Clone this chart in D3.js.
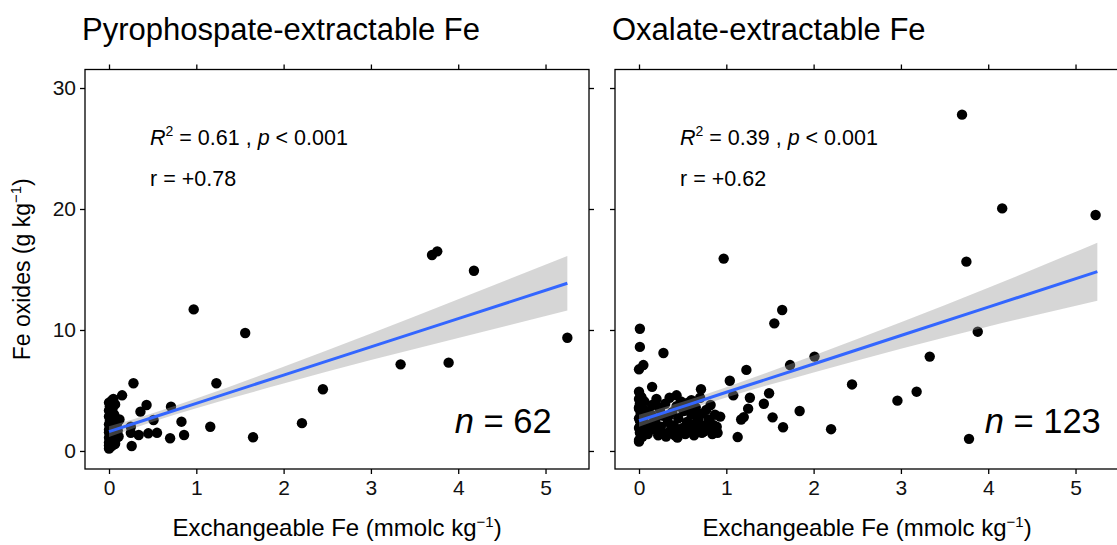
<!DOCTYPE html>
<html><head><meta charset="utf-8">
<script src="https://cdn.jsdelivr.net/npm/d3@7"></script>
<style>body{margin:0;background:#fff}svg{display:block;font-family:"Liberation Sans",Arial,sans-serif}</style>
</head><body><svg id="c" width="1117" height="545"></svg>
<script>
const xTicks = [0, 1, 2, 3, 4, 5];
const yTicks = [0, 10, 20, 30];
const panelTitles = ["Pyrophospate-extractable Fe", "Oxalate-extractable Fe"];
const r2Values = ["0.61", "0.39"];
const rValues = ["+0.78", "+0.62"];
const nValues = ["62", "123"];

// Pyrophosphate-extractable Fe (n = 62)
const pyroX = [3.70,3.76,4.18,5.25,3.34,3.89,0.97,1.56,2.21,2.45,1.65,1.16,1.23,
  0.28,0.15,0.43,0.36,0.71,0.51,0.83,0.25,0.25,0.34,0.45,0.55,0.70,0.86,0.26,0.11,0.07,
  0.00,0.02,0.05,0.00,0.03,0.00,0.06,0.01,0.04,0.00,0.08,0.02,0.00,0.05,0.01,0.03,
  0.00,0.06,0.02,0.00,0.04,0.01,0.07,0.00,0.03,0.05,0.00,0.10,0.09,0.12,0.00,0.08];
const pyroY = [16.2,16.5,14.9,9.36,7.16,7.3,11.7,9.75,2.3,5.1,1.13,2.0,5.6,
  5.6,4.6,3.8,3.25,3.66,2.56,2.42,2.0,1.5,1.32,1.46,1.5,1.05,1.32,0.41,1.2,0.6,
  0.2,0.35,0.5,0.7,0.9,1.1,1.25,1.4,1.6,1.75,1.9,2.05,2.2,2.35,2.5,2.7,
  2.85,3.0,3.2,3.35,3.5,3.7,3.85,4.0,4.15,4.3,1.55,1.7,2.2,2.6,0.45,1.0];

// Oxalate-extractable Fe (n = 123)
const oxX = [3.70,4.16,5.23,3.75,0.97,3.88,3.33,3.18,2.96,2.44,3.78,2.20,
  1.64,1.55,1.73,2.01,1.49,1.43,1.53,1.84,1.65,
  0.01,0.01,0.05,0.00,0.28,1.23,1.04,0.15,0.71,1.27,1.08,1.25,1.17,1.13,1.20,0.93,0.85,0.74,0.43,0.60,0.77,0.00,0.00,
  0.00,0.02,0.04,0.01,0.05,0.00,0.03,0.06,0.01,0.00,0.04,0.02,0.05,0.00,0.03,0.01,0.06,0.00,0.02,0.04,0.01,0.05,0.00,0.03,0.06,
  0.10,0.12,0.14,0.15,0.17,0.19,0.20,0.22,0.24,0.25,0.27,0.28,0.30,0.31,0.33,0.35,0.36,0.38,0.40,0.41,
  0.43,0.45,0.46,0.48,0.50,0.51,0.53,0.55,0.56,0.58,0.60,0.62,0.63,0.65,0.67,0.68,0.70,0.72,0.73,0.75,
  0.78,0.80,0.82,0.84,0.87,0.89,0.90,0.18,0.23,0.34,0.44,0.57,0.66,0.08];
const oxY = [27.8,20.05,19.5,15.65,15.9,9.86,7.8,4.9,4.16,5.5,1.0,1.8,
  11.65,10.55,7.1,7.8,4.77,3.9,2.78,3.3,1.96,
  10.1,8.6,7.1,6.75,8.1,6.7,5.8,5.3,5.1,4.4,4.6,3.5,2.6,1.15,2.8,2.84,2.15,1.6,4.6,4.2,3.4,0.77,4.9,
  0.9,1.1,1.3,1.5,1.7,1.9,2.1,2.3,2.5,2.7,2.9,3.1,3.3,3.5,3.7,3.9,4.1,4.3,4.5,1.2,2.0,2.8,3.6,4.4,1.6,
  1.4,2.2,3.0,3.8,1.8,2.6,4.3,1.3,3.4,2.0,1.5,2.9,3.9,1.2,2.4,4.4,1.7,3.2,2.1,1.3,
  3.7,2.7,1.6,4.1,1.9,3.3,1.4,2.4,4.0,1.7,3.0,2.2,1.3,3.6,1.9,2.6,4.4,1.5,3.1,2.1,
  1.8,2.6,3.8,1.4,3.0,2.0,1.5,2.5,3.6,2.9,1.1,3.4,2.9,3.3];

// fitted line and 95% band
const bandX = [0, 0.5, 1, 2, 3, 4, 5.25];
const pyroFit = [1.6, 2.77, 3.94, 6.27, 8.61, 10.94, 13.86];
const pyroLo = [1.15, 2.42, 3.54, 5.57, 7.51, 9.34, 11.61];
const pyroHi = [2.05, 3.12, 4.34, 6.97, 9.71, 12.54, 16.11];
const oxFit = [2.5, 3.67, 4.85, 7.19, 9.54, 11.89, 14.82];
const oxLo = [2.0, 3.27, 4.43, 6.49, 8.44, 10.29, 12.42];
const oxHi = [3.0, 4.07, 5.27, 7.89, 10.64, 13.49, 17.22];

const svg = d3.select("#c");
const pTop = 69.5, pBottom = 469;
const y = d3.scaleLinear().domain([-1.49, 31.53]).range([pBottom, pTop]);

const panels = [
  {x0: 85, x1: 589, xs: pyroX, ys: pyroY, fit: pyroFit, lo: pyroLo, hi: pyroHi, i: 0, yLabels: true},
  {x0: 615, x1: 1119, xs: oxX, ys: oxY, fit: oxFit, lo: oxLo, hi: oxHi, i: 1, yLabels: false}
];

panels.forEach(p => {
  const x = d3.scaleLinear().domain([-0.275, 5.498]).range([p.x0, p.x1]);
  const g = svg.append("g");
  const clipId = "clip" + p.i;
  svg.append("clipPath").attr("id", clipId).append("rect")
    .attr("x", p.x0).attr("y", pTop).attr("width", p.x1 - p.x0).attr("height", pBottom - pTop);
  const plot = g.append("g").attr("clip-path", `url(#${clipId})`);

  plot.selectAll("circle").data(p.xs.map((v, k) => [v, p.ys[k]])).join("circle")
    .attr("cx", d => x(d[0])).attr("cy", d => y(d[1])).attr("r", 5.2).attr("fill", "#000");

  const area = d3.area().x((d, k) => x(bandX[k])).y0((d, k) => y(p.lo[k])).y1((d, k) => y(p.hi[k]))
    .curve(d3.curveMonotoneX);
  plot.append("path").attr("d", area(bandX)).attr("fill", "#999999").attr("fill-opacity", 0.4);
  const line = d3.line().x((d, k) => x(bandX[k])).y((d, k) => y(p.fit[k]));
  plot.append("path").attr("d", line(bandX)).attr("fill", "none").attr("stroke", "#3366FF").attr("stroke-width", 3);

  g.append("rect").attr("x", p.x0).attr("y", pTop).attr("width", p.x1 - p.x0).attr("height", pBottom - pTop)
    .attr("fill", "none").attr("stroke", "#000").attr("stroke-width", 1.3);

  const axB = d3.axisBottom(x).tickValues(xTicks).tickSize(5).tickPadding(6).tickFormat(d3.format("d"));
  const gb = g.append("g").attr("transform", `translate(0,${pBottom})`).call(axB);
  const gt = g.append("g").attr("transform", `translate(0,${pTop})`).call(d3.axisTop(x).tickValues(xTicks).tickSize(5).tickFormat(""));
  const axL = d3.axisLeft(y).tickValues(yTicks).tickSize(5).tickPadding(4);
  if (!p.yLabels) axL.tickFormat("");
  const gl = g.append("g").attr("transform", `translate(${p.x0},0)`).call(axL);
  const gr = g.append("g").attr("transform", `translate(${p.x1},0)`).call(d3.axisRight(y).tickValues(yTicks).tickSize(5).tickFormat(""));
  [gb, gt, gl, gr].forEach(a => {
    a.select(".domain").remove();
    a.selectAll(".tick line").attr("stroke", "#000").attr("stroke-width", 1.3);
    a.selectAll(".tick text").attr("fill", "#111").attr("font-size", 21).attr("font-family", '"Liberation Sans",Arial,sans-serif');
  });

  svg.append("text").attr("x", p.x0 - 3).attr("y", 40).attr("font-size", 31).attr("fill", "#000")
    .text(panelTitles[p.i]);

  const a1 = svg.append("text").attr("x", x(0.47)).attr("y", y(25.3)).attr("font-size", 21.5).attr("fill", "#000");
  a1.append("tspan").attr("font-style", "italic").text("R");
  a1.append("tspan").attr("font-size", 14).attr("dy", -9).text("2");
  a1.append("tspan").attr("dy", 9).text(" = " + r2Values[p.i] + " , ");
  a1.append("tspan").attr("font-style", "italic").text("p");
  a1.append("tspan").text(" < 0.001");
  svg.append("text").attr("x", x(0.47)).attr("y", y(21.9)).attr("font-size", 21.5).attr("fill", "#000")
    .text("r = " + rValues[p.i]);
  const nt = svg.append("text").attr("x", x(3.96)).attr("y", y(1.5)).attr("font-size", 34.5).attr("fill", "#000");
  nt.append("tspan").attr("font-style", "italic").text("n");
  nt.append("tspan").text(" = " + nValues[p.i]);

  const xt = svg.append("text").attr("x", (p.x0 + p.x1) / 2).attr("y", 536).attr("text-anchor", "middle")
    .attr("font-size", 24).attr("fill", "#000");
  xt.append("tspan").text("Exchangeable Fe (mmolc kg");
  xt.append("tspan").attr("font-size", 15).attr("dy", -9).text("\u22121");
  xt.append("tspan").attr("dy", 9).text(")");
});

const yt = svg.append("text").attr("transform", `translate(30,${(pTop + pBottom) / 2}) rotate(-90)`)
  .attr("text-anchor", "middle").attr("font-size", 23).attr("fill", "#000");
yt.append("tspan").text("Fe oxides (g kg");
yt.append("tspan").attr("font-size", 15).attr("dy", -9).text("\u22121");
yt.append("tspan").attr("dy", 9).text(")");
</script></body></html>
